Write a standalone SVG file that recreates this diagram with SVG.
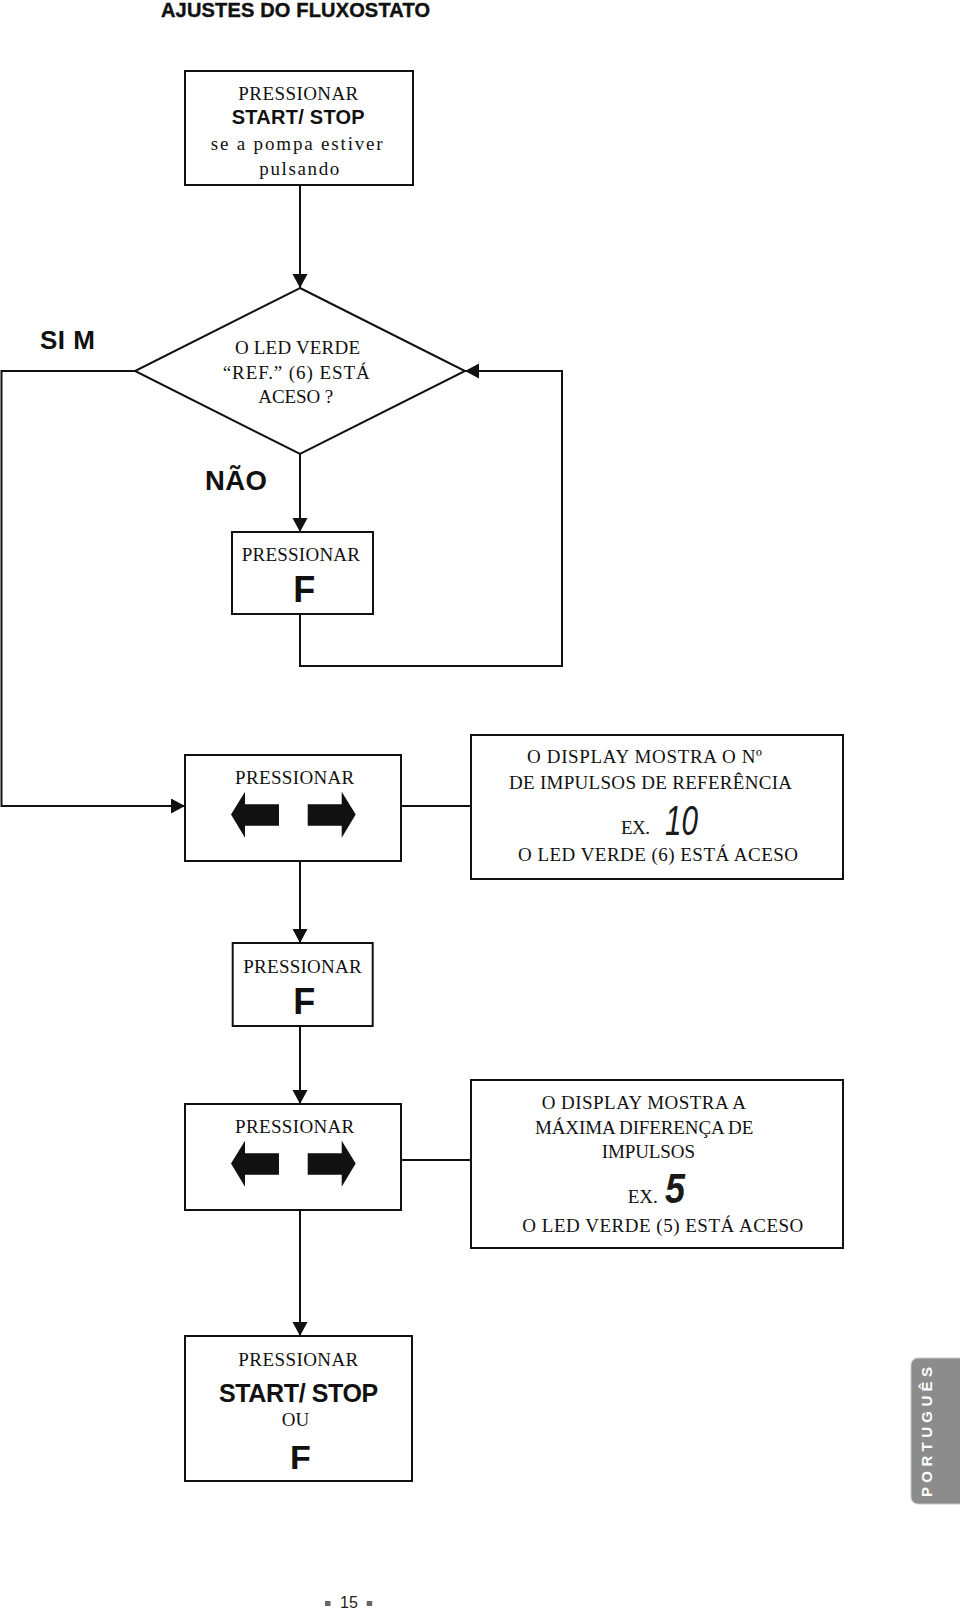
<svg xmlns="http://www.w3.org/2000/svg" xmlns:xlink="http://www.w3.org/1999/xlink" width="960" height="1613" viewBox="0 0 960 1613">
<style>
.box{fill:#fff;stroke:#111;stroke-width:2}
.ln{fill:none;stroke:#111;stroke-width:2}
.sf{font-family:"Liberation Serif","Times New Roman",serif;font-size:19px;fill:#111}
.sb{font-family:"Liberation Sans",Arial,sans-serif;font-weight:bold;fill:#111}
.seg{font-family:"Liberation Sans",Arial,sans-serif;font-style:italic;font-size:43px;fill:#1a1a1a}
.kb{fill:#111}
</style>
<defs>
<marker id="ah" markerUnits="userSpaceOnUse" markerWidth="16" markerHeight="16" refX="14" refY="7.5" orient="auto">
<path d="M0,0 L14,7.5 L0,15 Z" fill="#111"/>
</marker>
<g id="kbarrows">
<polygon class="kb" points="46,59.5 60,36.7 60,49.3 94,49.3 94,70.7 60,70.7 60,82.7"/>
<polygon class="kb" points="122.7,49.3 156.7,49.3 156.7,36.7 170.7,59.5 156.7,82.7 156.7,70.7 122.7,70.7"/>
</g>
</defs>
<rect width="960" height="1613" fill="#fff"/>

<text id="title" class="sb" x="161" y="17" font-size="20" textLength="269" stroke="#111" stroke-width="0.4">AJUSTES DO FLUXOSTATO</text>

<g id="connectors">
<path class="ln" d="M300,185 V288" marker-end="url(#ah)"/>
<path class="ln" d="M300,454 V532" marker-end="url(#ah)"/>
<path class="ln" d="M300,614 V666 H562 V371 H465" marker-end="url(#ah)"/>
<path class="ln" d="M135,371 H1.5 V806 H185" marker-end="url(#ah)"/>
<path class="ln" d="M401,806 H471"/>
<path class="ln" d="M300,861 V943" marker-end="url(#ah)"/>
<path class="ln" d="M300,1026 V1104" marker-end="url(#ah)"/>
<path class="ln" d="M401,1160 H471"/>
<path class="ln" d="M300,1210 V1336" marker-end="url(#ah)"/>
<text class="sb" x="40" y="349" font-size="26" textLength="55">SI M</text>
<text class="sb" x="205" y="490" font-size="27.5" textLength="62">NÃO</text>
</g>

<g id="start">
<rect class="box" x="185" y="71" width="228" height="114"/>
<text class="sf" x="238.3" y="100" textLength="120">PRESSIONAR</text>
<text class="sb" x="231.7" y="124.3" font-size="20" textLength="133">START/ STOP</text>
<text class="sf" x="210.7" y="150" textLength="172">se a pompa estiver</text>
<text class="sf" x="259.3" y="174.5" textLength="80">pulsando</text>
</g>

<g id="decision">
<polygon class="box" points="300,288 465,371 300,454 135,371"/>
<text class="sf" x="235" y="354" textLength="125">O LED VERDE</text>
<text class="sf" x="222.7" y="379" textLength="147">“REF.” (6) ESTÁ</text>
<text class="sf" x="258.3" y="403.3" textLength="75">ACESO ?</text>
</g>

<g id="pressF1">
<rect class="box" x="232" y="532" width="141" height="82"/>
<text class="sf" x="241.7" y="561" textLength="118.3">PRESSIONAR</text>
<text class="sb" x="293.3" y="602" font-size="36">F</text>
</g>

<g id="pressArrows1">
<rect class="box" x="185" y="755" width="216" height="106"/>
<text class="sf" x="235" y="784.3" textLength="119.3">PRESSIONAR</text>
<use xlink:href="#kbarrows" transform="translate(185,755)"/>
</g>

<g id="note1">
<rect class="box" x="471" y="735" width="372" height="144"/>
<text class="sf" x="527" y="763" textLength="235">O DISPLAY MOSTRA O Nº</text>
<text class="sf" x="509" y="788.5" textLength="283">DE IMPULSOS DE REFERÊNCIA</text>
<text class="sf" x="621" y="834" textLength="29">EX.</text>
<text class="seg" x="665" y="835" textLength="33" lengthAdjust="spacingAndGlyphs">10</text>
<text class="sf" x="518" y="861" textLength="280">O LED VERDE (6) ESTÁ ACESO</text>
</g>

<g id="pressF2">
<rect class="box" x="232.7" y="943" width="140" height="83"/>
<text class="sf" x="243.3" y="972.7" textLength="118.4">PRESSIONAR</text>
<text class="sb" x="293.3" y="1014" font-size="36">F</text>
</g>

<g id="pressArrows2">
<rect class="box" x="185" y="1104" width="216" height="106"/>
<text class="sf" x="235" y="1133" textLength="119.3">PRESSIONAR</text>
<use xlink:href="#kbarrows" transform="translate(185,1104)"/>
</g>

<g id="note2">
<rect class="box" x="471" y="1080" width="372" height="168"/>
<text class="sf" x="541.7" y="1109.3" textLength="204.3">O DISPLAY MOSTRA A</text>
<text class="sf" x="535" y="1134.3" textLength="218.3">MÁXIMA DIFERENÇA DE</text>
<text class="sf" x="601.7" y="1158.3" textLength="93.3">IMPULSOS</text>
<text class="sf" x="627.7" y="1203.3" textLength="30">EX.</text>
<text class="seg" x="665" y="1202.7" font-weight="bold" textLength="20" lengthAdjust="spacingAndGlyphs">5</text>
<text class="sf" x="522.3" y="1232.3" textLength="281">O LED VERDE (5) ESTÁ ACESO</text>
</g>

<g id="end">
<rect class="box" x="185" y="1336" width="227" height="145"/>
<text class="sf" x="238.3" y="1366" textLength="120">PRESSIONAR</text>
<text class="sb" x="219" y="1401.7" font-size="25" textLength="159.3">START/ STOP</text>
<text class="sf" x="281.7" y="1426" textLength="27.6">OU</text>
<text class="sb" x="290" y="1469.3" font-size="34">F</text>
</g>

<g id="langtab">
<rect x="911" y="1358" width="60" height="146" rx="7" fill="#8c8c8c" stroke="#c8c8c8" stroke-width="1"/>
<text class="sb" transform="translate(932,1497) rotate(-90)" font-size="15" fill="#fff" style="fill:#fff" textLength="130">PORTUGUÊS</text>
</g>

<g id="pagenum">
<rect x="325" y="1601" width="5.5" height="5" fill="#666"/>
<text x="340" y="1608.3" font-family="Liberation Sans, Arial, sans-serif" font-size="16" fill="#222">15</text>
<rect x="366.7" y="1601" width="5.5" height="5" fill="#666"/>
</g>
</svg>
